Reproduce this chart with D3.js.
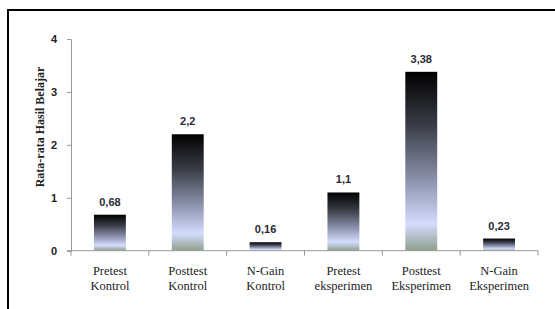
<!DOCTYPE html>
<html><head><meta charset="utf-8">
<script src="https://cdn.jsdelivr.net/npm/d3@7"></script>
<style>body{margin:0;background:#fff}</style>
</head><body>
<svg id="c" width="555" height="309"></svg>
<script>
const categories = [["Pretest","Kontrol"],["Posttest","Kontrol"],["N-Gain","Kontrol"],["Pretest","eksperimen"],["Posttest","Eksperimen"],["N-Gain","Eksperimen"]];
const values = [0.68, 2.2, 0.16, 1.1, 3.38, 0.23];
const valueLabels = ["0,68","2,2","0,16","1,1","3,38","0,23"];
const yTicks = [0,1,2,3,4];
const yTitle = "Rata-rata Hasil Belajar";

const svg = d3.select("#c");
const m = {left:71, right:17, top:39, bottom:58};
const W = 555, H = 309;
const x = d3.scaleBand().domain(d3.range(values.length)).range([m.left, W-m.right]).paddingInner(0.59).paddingOuter(0.295);
const y = d3.scaleLinear().domain([0,4]).range([250.7, 39]);

// frame
svg.append("path").attr("d","M8,309 V10 H555").attr("fill","none").attr("stroke","#000").attr("stroke-width",2);

const defs = svg.append("defs");
const g = defs.append("linearGradient").attr("id","bg").attr("x1",0).attr("y1",0).attr("x2",0).attr("y2",1);
[[0,"#000000"],[0.3,"#3a3d47"],[0.6,"#8a90aa"],[0.85,"#d4dcff"],[1,"#8fa08c"]].forEach(([o,c])=>g.append("stop").attr("offset",o).attr("stop-color",c));

// y axis
const ya = svg.append("g").attr("transform",`translate(${m.left},0)`)
  .call(d3.axisLeft(y).tickValues(yTicks).tickSize(4).tickPadding(10).tickFormat(d3.format("d")));
ya.select(".domain").attr("stroke","#999");
ya.selectAll(".tick line").attr("stroke","#999");
ya.selectAll("text").attr("font-family","Liberation Sans, Arial, sans-serif").attr("font-weight","bold").attr("font-size",11).attr("fill","#222");

// x axis
const xa = svg.append("g").attr("transform",`translate(0,${y(0)})`);
xa.append("line").attr("x1",m.left-4).attr("x2",W-m.right).attr("y1",0).attr("y2",0).attr("stroke","#999");
const bounds = d3.range(values.length+1).map(i=> m.left + i*(W-m.right-m.left)/values.length);
xa.selectAll("line.t").data(bounds).enter().append("line").attr("class","t")
  .attr("x1",d=>d).attr("x2",d=>d).attr("y1",0).attr("y2",5).attr("stroke","#999");
const lab = xa.selectAll("text.l").data(categories).enter().append("text").attr("class","l")
  .attr("x",(d,i)=>x(i)+x.bandwidth()/2).attr("text-anchor","middle")
  .attr("font-family","Liberation Serif, Times New Roman, serif").attr("font-size",12.5).attr("fill","#222");
lab.append("tspan").attr("x",(d,i)=>x(i)+x.bandwidth()/2).attr("y",24).text(d=>d[0]);
lab.append("tspan").attr("x",(d,i)=>x(i)+x.bandwidth()/2).attr("y",39).text(d=>d[1]);

// bars
svg.selectAll("rect.b").data(values).enter().append("rect").attr("class","b")
  .attr("x",(d,i)=>x(i)).attr("width",x.bandwidth())
  .attr("y",d=>y(d)).attr("height",d=>y(0)-y(d)).attr("fill","url(#bg)");

svg.selectAll("text.v").data(values).enter().append("text").attr("class","v")
  .attr("x",(d,i)=>x(i)+x.bandwidth()/2).attr("y",d=>y(d)-9)
  .attr("text-anchor","middle").attr("font-family","Liberation Sans, Arial, sans-serif")
  .attr("font-weight","bold").attr("font-size",11).attr("fill","#2a2a35")
  .text((d,i)=>valueLabels[i]);

// y title
svg.append("text").attr("transform","translate(44,127) rotate(-90)").attr("text-anchor","middle")
  .attr("font-family","Liberation Serif, Times New Roman, serif").attr("font-weight","bold").attr("font-size",12).attr("fill","#222")
  .text(yTitle);
</script>
</body></html>
